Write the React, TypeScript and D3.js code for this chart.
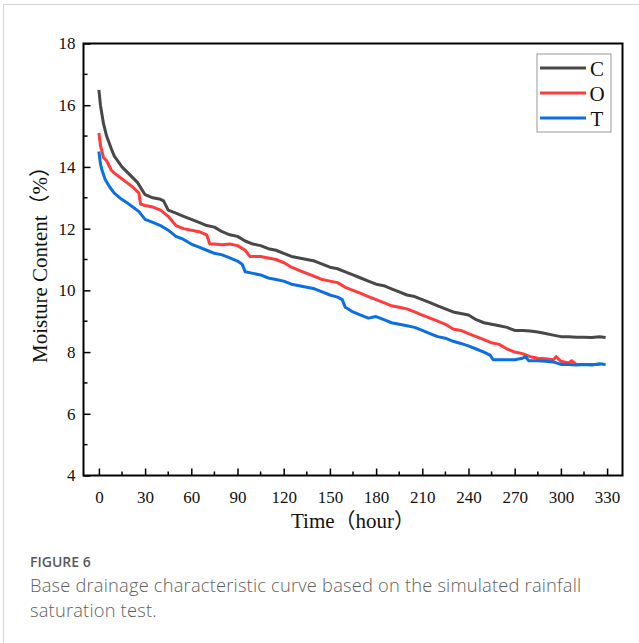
import * as d3 from "d3";
import { useEffect, useRef } from "react";

// axis ticks
const xTicks = [0, 30, 60, 90, 120, 150, 180, 210, 240, 270, 300, 330];
const xMinorTicks = [15, 45, 75, 105, 135, 165, 195, 225, 255, 285, 315];
const yTicks = [4, 6, 8, 10, 12, 14, 16, 18];
const yMinorTicks = [5, 7, 9, 11, 13, 15, 17];

const seriesNames = ["C", "O", "T"];
const seriesColors = ["#484848", "#ff3b3b", "#0a6fe2"];

// C series
const hoursC = [0, 1, 2, 3, 5, 8, 10, 15, 20, 25, 30, 35, 40, 42, 45, 50, 55, 60, 65, 70, 75, 80, 85, 90, 95, 100, 105, 110, 115, 120, 125, 130, 135, 140, 145, 150, 155, 160, 165, 170, 175, 180, 185, 190, 195, 200, 205, 210, 215, 220, 225, 230, 235, 240, 245, 250, 255, 260, 265, 270, 275, 280, 285, 290, 295, 300, 305, 310, 315, 320, 325, 329];
const moistureC = [16.5, 16.0, 15.7, 15.4, 15.0, 14.6, 14.35, 14.0, 13.75, 13.5, 13.1, 13.0, 12.95, 12.9, 12.6, 12.5, 12.4, 12.3, 12.2, 12.1, 12.05, 11.9, 11.8, 11.75, 11.6, 11.5, 11.45, 11.35, 11.3, 11.2, 11.1, 11.05, 11.0, 10.95, 10.85, 10.75, 10.7, 10.6, 10.5, 10.4, 10.3, 10.2, 10.15, 10.05, 9.95, 9.85, 9.8, 9.7, 9.6, 9.5, 9.4, 9.3, 9.25, 9.2, 9.05, 8.95, 8.9, 8.85, 8.8, 8.7, 8.7, 8.68, 8.65, 8.6, 8.55, 8.5, 8.5, 8.48, 8.48, 8.47, 8.5, 8.47];

// O series
const hoursO = [0, 1, 2, 3, 5, 8, 10, 14, 18, 22, 26, 27, 30, 35, 40, 45, 50, 55, 60, 65, 70, 72, 75, 80, 85, 90, 95, 98, 105, 110, 115, 120, 125, 130, 135, 140, 145, 150, 155, 160, 165, 170, 175, 180, 185, 190, 195, 200, 205, 210, 215, 220, 225, 230, 235, 240, 245, 250, 255, 260, 265, 270, 275, 280, 285, 290, 295, 297, 300, 305, 307, 310, 315, 320, 325];
const moistureO = [15.1, 14.7, 14.5, 14.3, 14.2, 13.9, 13.8, 13.65, 13.5, 13.35, 13.15, 12.8, 12.75, 12.7, 12.6, 12.4, 12.1, 12.0, 11.95, 11.9, 11.8, 11.5, 11.5, 11.48, 11.5, 11.45, 11.3, 11.1, 11.1, 11.05, 11.0, 10.9, 10.75, 10.65, 10.55, 10.45, 10.35, 10.3, 10.25, 10.1, 10.0, 9.9, 9.8, 9.7, 9.6, 9.5, 9.45, 9.4, 9.3, 9.2, 9.1, 9.0, 8.9, 8.75, 8.7, 8.6, 8.5, 8.4, 8.3, 8.25, 8.1, 8.0, 7.95, 7.85, 7.8, 7.78, 7.75, 7.85, 7.7, 7.65, 7.72, 7.6, 7.6, 7.6, 7.6];

// T series
const hoursT = [0, 1, 2, 4, 7, 10, 14, 18, 22, 26, 30, 35, 40, 45, 50, 55, 60, 65, 70, 75, 80, 85, 90, 93, 95, 100, 105, 110, 115, 120, 125, 130, 135, 140, 145, 150, 155, 158, 160, 165, 170, 175, 180, 185, 190, 195, 200, 205, 210, 215, 220, 225, 230, 235, 240, 245, 250, 254, 256, 260, 265, 270, 275, 277, 279, 285, 290, 295, 300, 305, 310, 315, 320, 325, 329];
const moistureT = [14.5, 14.1, 13.9, 13.6, 13.35, 13.15, 12.98, 12.85, 12.7, 12.55, 12.3, 12.2, 12.1, 11.95, 11.75, 11.65, 11.5, 11.4, 11.3, 11.2, 11.15, 11.05, 10.95, 10.85, 10.6, 10.55, 10.5, 10.4, 10.35, 10.3, 10.2, 10.15, 10.1, 10.05, 9.95, 9.85, 9.78, 9.7, 9.45, 9.3, 9.2, 9.1, 9.15, 9.05, 8.95, 8.9, 8.85, 8.8, 8.7, 8.6, 8.5, 8.45, 8.35, 8.28, 8.2, 8.1, 8.0, 7.9, 7.75, 7.75, 7.75, 7.75, 7.8, 7.85, 7.72, 7.72, 7.7, 7.68, 7.6, 7.6, 7.58, 7.6, 7.58, 7.62, 7.6];

const seriesHours = [hoursC, hoursO, hoursT];
const seriesMoisture = [moistureC, moistureO, moistureT];

const serif = "'Times New Roman', 'Liberation Serif', 'Noto Sans CJK SC', serif";
const sans = "'Open Sans', 'Noto Sans', sans-serif";

const drawChart = (target: SVGSVGElement) => {
  const svg = d3.select(target);
  svg.selectAll("*").remove();

  const left = 83.5, right = 622.5, top = 43.5, bottom = 475.5;
  const x = d3.scaleLinear().domain([-10, 340]).range([left, right]);
  const y = d3.scaleLinear().domain([4, 18]).range([bottom, top]);

  // page frame
  svg.append("line").attr("x1", 3.5).attr("x2", 639).attr("y1", 4.5).attr("y2", 4.5).attr("stroke", "#d4d4d4");
  svg.append("line").attr("x1", 3.5).attr("x2", 3.5).attr("y1", 4.5).attr("y2", 643).attr("stroke", "#d4d4d4");

  const xAxis = svg
    .append("g")
    .attr("transform", `translate(0,${bottom})`)
    .call(d3.axisBottom(x).tickValues(xTicks).tickSize(-7).tickPadding(15).tickFormat(d3.format("d")));
  const yAxis = svg
    .append("g")
    .attr("transform", `translate(${left},0)`)
    .call(d3.axisLeft(y).tickValues(yTicks).tickSize(-7).tickPadding(8).tickFormat(d3.format("d")));
  [xAxis, yAxis].forEach((g) => {
    g.select(".domain").remove();
    g.attr("font-family", serif).attr("font-size", 17);
    g.selectAll(".tick line").attr("stroke", "#000").attr("stroke-width", 1.5);
    g.selectAll(".tick text").attr("fill", "#111");
  });

  // minor ticks
  svg
    .append("g")
    .selectAll("line")
    .data(xMinorTicks)
    .join("line")
    .attr("x1", (d) => x(d))
    .attr("x2", (d) => x(d))
    .attr("y1", bottom)
    .attr("y2", bottom - 4)
    .attr("stroke", "#000")
    .attr("stroke-width", 1.5);
  svg
    .append("g")
    .selectAll("line")
    .data(yMinorTicks)
    .join("line")
    .attr("x1", left)
    .attr("x2", left + 4)
    .attr("y1", (d) => y(d))
    .attr("y2", (d) => y(d))
    .attr("stroke", "#000")
    .attr("stroke-width", 1.5);

  const line = d3
    .line<[number, number]>()
    .x((d) => x(d[0]))
    .y((d) => y(d[1]));

  seriesNames.forEach((name, i) => {
    const pts = seriesHours[i].map((h, j) => [h, seriesMoisture[i][j]] as [number, number]);
    svg
      .append("path")
      .attr("d", line(pts))
      .attr("fill", "none")
      .attr("stroke", seriesColors[i])
      .attr("stroke-width", 3)
      .attr("stroke-linejoin", "round");
  });

  // plot frame
  svg
    .append("rect")
    .attr("x", left)
    .attr("y", top)
    .attr("width", right - left)
    .attr("height", bottom - top)
    .attr("fill", "none")
    .attr("stroke", "#000")
    .attr("stroke-width", 2);

  // legend
  const lg = svg.append("g");
  lg.append("rect")
    .attr("x", 537)
    .attr("y", 54)
    .attr("width", 74)
    .attr("height", 78)
    .attr("fill", "#fff")
    .attr("stroke", "#999")
    .attr("stroke-width", 1);
  seriesNames.forEach((name, i) => {
    const ly = 68 + i * 25;
    lg.append("line")
      .attr("x1", 540)
      .attr("x2", 586)
      .attr("y1", ly)
      .attr("y2", ly)
      .attr("stroke", seriesColors[i])
      .attr("stroke-width", 3);
    lg.append("text")
      .attr("x", 597)
      .attr("y", ly + 7.5)
      .attr("text-anchor", "middle")
      .attr("font-family", serif)
      .attr("font-size", 21)
      .attr("fill", "#111")
      .text(name);
  });

  // axis titles
  svg
    .append("text")
    .attr("x", (left + right) / 2)
    .attr("y", 528)
    .attr("text-anchor", "middle")
    .attr("font-family", serif)
    .attr("font-size", 21)
    .attr("fill", "#111")
    .text("Time（hour）");
  svg
    .append("text")
    .attr("transform", `translate(47,${(top + bottom) / 2}) rotate(-90)`)
    .attr("text-anchor", "middle")
    .attr("font-family", serif)
    .attr("font-size", 21)
    .attr("fill", "#111")
    .text("Moisture Content（%）");

  // caption
  svg
    .append("text")
    .attr("x", 30)
    .attr("y", 567)
    .attr("font-family", sans)
    .attr("font-size", 14)
    .attr("font-weight", 600)
    .attr("fill", "#5a5a5a")
    .text("FIGURE 6");
  ["Base drainage characteristic curve based on the simulated rainfall", "saturation test."].forEach((t, i) => {
    svg
      .append("text")
      .attr("x", 30)
      .attr("y", 592 + i * 25)
      .attr("font-family", sans)
      .attr("font-size", 18.3)
      .attr("font-weight", 300)
      .attr("letter-spacing", 0.2)
      .attr("fill", "#5f5f5f")
      .text(t);
  });
};

const App = () => {
  const ref = useRef<SVGSVGElement>(null);
  useEffect(() => {
    if (ref.current) drawChart(ref.current);
  }, []);
  return (
    <svg
      ref={ref}
      width={639}
      height={643}
      style={{ position: "absolute", left: 0, top: 0, background: "#fff" }}
    />
  );
};

export default App;
